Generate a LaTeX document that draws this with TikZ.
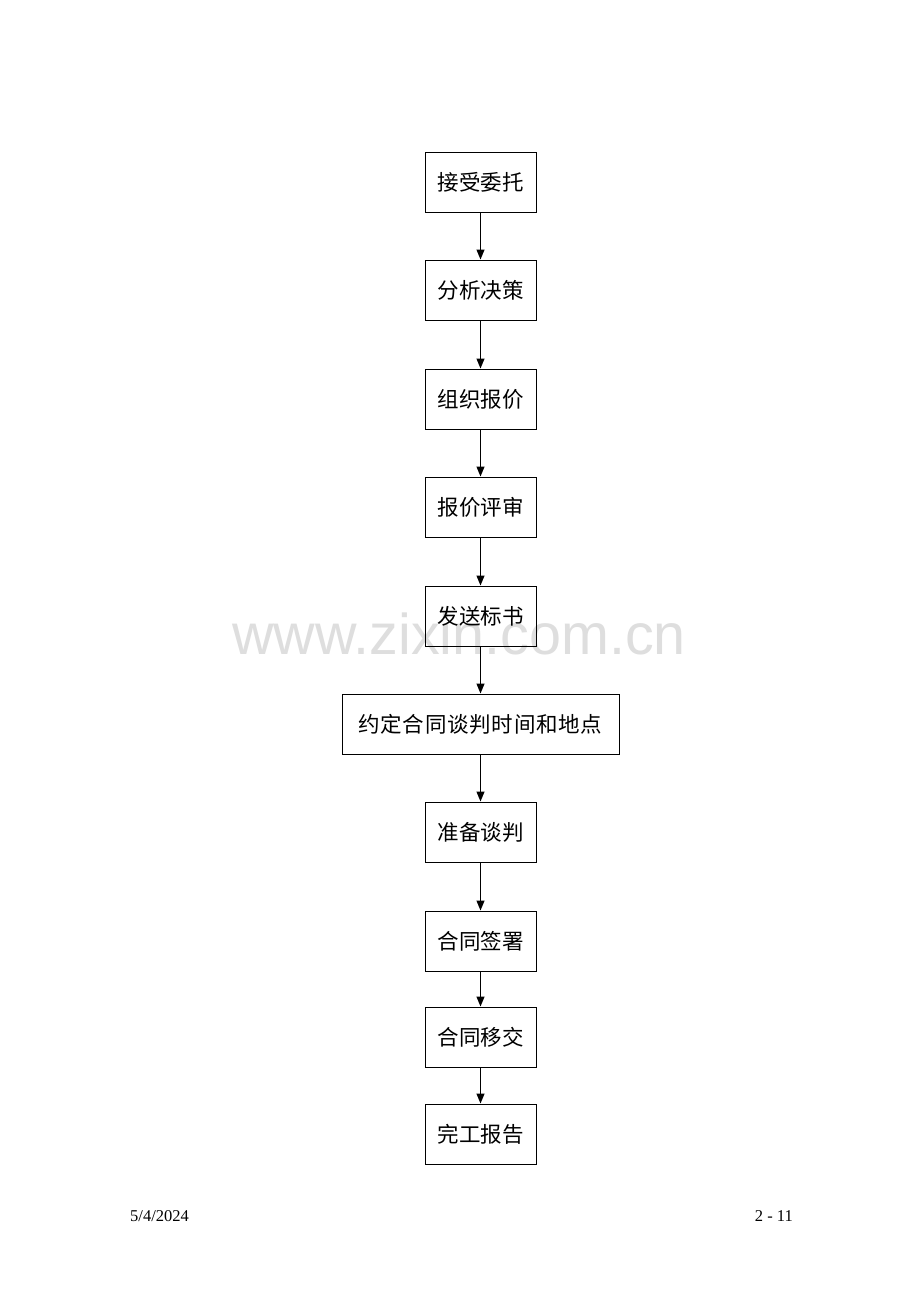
\documentclass[tikz,border=0pt]{standalone}
\usepackage{fontspec}
\setmainfont{Liberation Serif}
\newfontfamily\cjk{Noto Sans CJK SC}
\newfontfamily\wmfont{Liberation Sans}
\usetikzlibrary{arrows.meta}
\newcommand{\gp}{\hspace{0.75pt}}
\begin{document}
\begin{tikzpicture}[x=1pt,y=-1pt,
  box/.style={draw,line width=1pt,minimum height=60pt,inner sep=0pt,font=\cjk\fontsize{21.5}{25}\selectfont},
  sbox/.style={box,minimum width=111pt},
  arr/.style={-{Triangle[length=10pt,width=8pt]},line width=1.2pt},
  foot/.style={font=\fontsize{16.5}{18}\selectfont,inner sep=0pt}]
\useasboundingbox (0,0) rectangle (920,1302);
\fill[white] (0,0) rectangle (920,1302);
\node[text=black!13,font=\wmfont\fontsize{57.5}{64}\selectfont,inner sep=0pt] (wm) at (459,634) {www.zixin.com.cn};
\node[sbox] (b1) at (480.5,182) {接受委托};
\node[sbox] (b2) at (480.5,290) {分析决策};
\node[sbox] (b3) at (480.5,399) {组织报价};
\node[sbox] (b4) at (480.5,507) {报价评审};
\node[sbox] (b5) at (480.5,616) {发送标书};
\node[box,minimum width=277pt] (b6) at (480.5,724) {约\gp 定\gp 合\gp 同\gp 谈\gp 判\gp 时\gp 间\gp 和\gp 地\gp 点};
\node[sbox] (b7) at (480.5,832) {准备谈判};
\node[sbox] (b8) at (480.5,941) {合同签署};
\node[sbox] (b9) at (480.5,1037) {合同移交};
\node[sbox] (b10) at (480.5,1134) {完工报告};
\foreach \a/\b in {b1/b2,b2/b3,b3/b4,b4/b5,b5/b6,b6/b7,b7/b8,b8/b9,b9/b10}
  \draw[arr] (\a.south) -- (\b.north);
\node[foot,anchor=west] (d) at (130,1216) {5/4/2024};
\node[foot,anchor=east] (p) at (793,1216) {2 - 11};
\end{tikzpicture}
\end{document}
